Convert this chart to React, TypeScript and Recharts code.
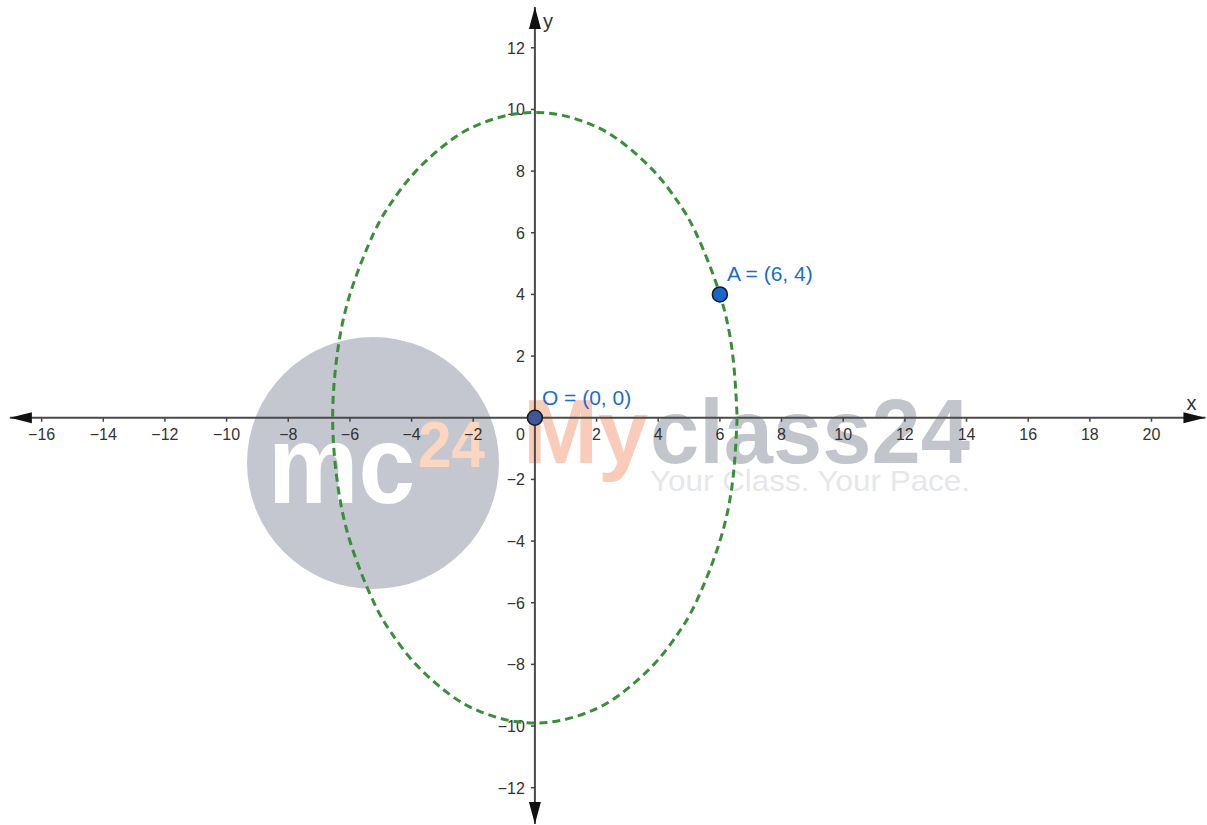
import React from "react";
import { ComposedChart, Scatter, XAxis, YAxis, ReferenceLine } from "recharts";

const W = 1207;
const H = 825;
const FONT = "Liberation Sans, Arial, sans-serif";

// axis ticks (units)
const xTicks = [-16, -14, -12, -10, -8, -6, -4, -2, 2, 4, 6, 8, 10, 12, 14, 16, 18, 20];
const yTicks = [-12, -10, -8, -6, -4, -2, 2, 4, 6, 8, 10, 12];

// dashed ellipse, points (starts on the right side)
const ellipsePts = [
  { x: 6.56, y: 0 },
  { x: 6.42, y: -2 },
  { x: 6.0, y: -4 },
  { x: 5.22, y: -6 },
  { x: 4.64, y: -7 },
  { x: 3.86, y: -8 },
  { x: 2.73, y: -9 },
  { x: 1.85, y: -9.5 },
  { x: 0.93, y: -9.8 },
  { x: 0, y: -9.9 },
  { x: -0.93, y: -9.8 },
  { x: -1.85, y: -9.5 },
  { x: -2.73, y: -9 },
  { x: -3.86, y: -8 },
  { x: -4.64, y: -7 },
  { x: -5.22, y: -6 },
  { x: -6.0, y: -4 },
  { x: -6.42, y: -2 },
  { x: -6.56, y: 0 },
  { x: -6.42, y: 2 },
  { x: -6.0, y: 4 },
  { x: -5.22, y: 6 },
  { x: -4.64, y: 7 },
  { x: -3.86, y: 8 },
  { x: -2.73, y: 9 },
  { x: -1.85, y: 9.5 },
  { x: -0.93, y: 9.8 },
  { x: 0, y: 9.9 },
  { x: 0.93, y: 9.8 },
  { x: 1.85, y: 9.5 },
  { x: 2.73, y: 9 },
  { x: 3.86, y: 8 },
  { x: 4.64, y: 7 },
  { x: 5.22, y: 6 },
  { x: 6.0, y: 4 },
  { x: 6.42, y: 2 },
  { x: 6.56, y: 0 },
];

const namedPoints = [
  { x: 0, y: 0, label: "O = (0, 0)", fill: "#3f5698" },
  { x: 6, y: 4, label: "A = (6, 4)", fill: "#1a66cc" },
];

const arrowEnds = [
  { x: -17.03, y: 0, dir: "left", label: "" },
  { x: 21.75, y: 0, dir: "right", label: "x" },
  { x: 0, y: 13.32, dir: "up", label: "y" },
  { x: 0, y: -13.18, dir: "down", label: "" },
];

const fmt = (v: number) => (v < 0 ? "\u2212" + Math.abs(v) : String(v));
const xTickData = xTicks.map((v) => ({ x: v, y: 0, label: fmt(v) }));
const yTickData = yTicks.map((v) => ({ x: 0, y: v, label: fmt(v) }));
const originData = [{ x: 0, y: 0, label: "0" }];

const XTick = (p: any) => (
  <g>
    <line x1={p.cx} x2={p.cx} y1={p.cy} y2={p.cy + 4} stroke="#444" strokeWidth={1.5} />
    <text x={p.cx} y={p.cy + 22} textAnchor="middle" fontSize={16} fill="#333" fontFamily={FONT}>
      {p.payload.label}
    </text>
  </g>
);

const YTick = (p: any) => (
  <g>
    <line x1={p.cx - 4} x2={p.cx} y1={p.cy} y2={p.cy} stroke="#444" strokeWidth={1.5} />
    <text x={p.cx - 10} y={p.cy + 6} textAnchor="end" fontSize={16} fill="#333" fontFamily={FONT}>
      {p.payload.label}
    </text>
  </g>
);

const OriginLabel = (p: any) => (
  <text x={p.cx - 10} y={p.cy + 22} textAnchor="end" fontSize={16} fill="#333" fontFamily={FONT}>
    {p.payload.label}
  </text>
);

const Arrow = (p: any) => {
  const { cx, cy } = p;
  const d = p.payload.dir;
  let pts = "";
  if (d === "left") pts = `${cx},${cy} ${cx + 22},${cy - 5.5} ${cx + 22},${cy + 5.5}`;
  if (d === "right") pts = `${cx},${cy} ${cx - 22},${cy - 5.5} ${cx - 22},${cy + 5.5}`;
  if (d === "up") pts = `${cx},${cy} ${cx - 6},${cy + 22} ${cx + 6},${cy + 22}`;
  if (d === "down") pts = `${cx},${cy} ${cx - 6},${cy - 22} ${cx + 6},${cy - 22}`;
  return (
    <g>
      <polygon points={pts} fill="#111" />
      {d === "right" && (
        <text x={cx - 14} y={cy - 8} textAnchor="middle" fontSize={20} fill="#333" fontFamily={FONT}>
          {p.payload.label}
        </text>
      )}
      {d === "up" && (
        <text x={cx + 8} y={cy + 21} fontSize={20} fill="#333" fontFamily={FONT}>
          {p.payload.label}
        </text>
      )}
    </g>
  );
};

const PointMark = (p: any) => (
  <g>
    <circle cx={p.cx} cy={p.cy} r={7.5} fill={p.payload.fill} stroke="#1a1a1a" strokeWidth={1.5} />
    <text x={p.cx + 7} y={p.cy - 13} fontSize={21} fill="#1a6dcc" fontFamily={FONT}>
      {p.payload.label}
    </text>
  </g>
);

const Watermark = () => (
  <svg width={W} height={H} style={{ position: "absolute", left: 0, top: 0 }}>
    <circle cx={373} cy={463} r={126} fill="#c4c7cf" />
    <text x={268} y={503} fontSize={112} fontWeight="bold" fill="#ffffff" fontFamily={FONT} textLength={147} lengthAdjust="spacingAndGlyphs">
      mc
    </text>
    <text x={418} y={467} fontSize={64} fontWeight="bold" fill="#fcd6bf" fontFamily={FONT} textLength={67} lengthAdjust="spacingAndGlyphs">
      24
    </text>
    <text x={523} y={463} fontSize={90} fontWeight="bold" fill="#f9cbb9" fontFamily={FONT}>
      My
    </text>
    <text x={650} y={463} fontSize={90} fontWeight="bold" fill="#c2c5cc" fontFamily={FONT} textLength={320} lengthAdjust="spacingAndGlyphs">
      class24
    </text>
    <text x={650} y={491} fontSize={29} fill="#e6e7ea" fontFamily={FONT} textLength={320} lengthAdjust="spacingAndGlyphs">
      Your Class. Your Pace.
    </text>
  </svg>
);

const blank = () => <g />;

export default function App() {
  return (
    <div style={{ position: "absolute", left: 0, top: 0, width: W, height: H, background: "#fff" }}>
      <Watermark />
      <div style={{ position: "absolute", left: 0, top: 0 }}>
        <ComposedChart width={W} height={H} margin={{ top: 0, right: 0, bottom: 0, left: 0 }}>
          <XAxis type="number" dataKey="x" domain={[-17.35, 21.8]} allowDataOverflow hide />
          <YAxis type="number" dataKey="y" domain={[-13.21, 13.55]} allowDataOverflow hide />

          {/* axes */}
          <ReferenceLine segment={[{ x: -17.03, y: 0 }, { x: 21.75, y: 0 }]} stroke="#4a4a4a" strokeWidth={2} />
          <ReferenceLine segment={[{ x: 0, y: -13.18 }, { x: 0, y: 13.32 }]} stroke="#4a4a4a" strokeWidth={2} />

          <Scatter data={xTickData} shape={XTick} isAnimationActive={false} />
          <Scatter data={yTickData} shape={YTick} isAnimationActive={false} />
          <Scatter data={originData} shape={OriginLabel} isAnimationActive={false} />
          <Scatter data={arrowEnds} shape={Arrow} isAnimationActive={false} />

          {/* ellipse */}
          <Scatter
            data={ellipsePts}
            shape={blank}
            line={{ stroke: "#3a8e3a", strokeWidth: 3, strokeDasharray: "8 5" }}
            lineType="joint"
            lineJointType="natural"
            isAnimationActive={false}
          />

          <Scatter data={namedPoints} shape={PointMark} isAnimationActive={false} />
        </ComposedChart>
      </div>
    </div>
  );
}
